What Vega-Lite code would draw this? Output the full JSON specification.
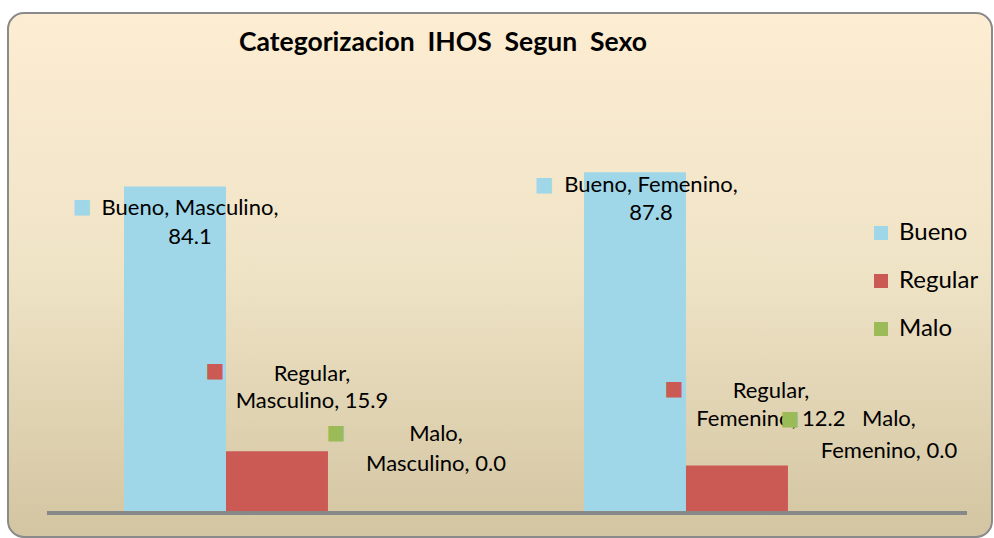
{
  "$schema": "https://vega.github.io/schema/vega-lite/v6.json",
  "autosize": {"type": "none"},
  "padding": {"left": 8, "top": 13, "right": 2, "bottom": 1},
  "width": 984,
  "height": 524,
  "background": "#ffffff",
  "title": {
    "text": "Categorizacion\u00a0\u00a0IHOS\u00a0\u00a0Segun\u00a0\u00a0Sexo",
    "anchor": "start",
    "frame": "group",
    "dx": 231,
    "dy": 64,
    "baseline": "alphabetic",
    "offset": 0,
    "font": "Lato",
    "fontSize": 26.5,
    "fontWeight": "bold",
    "color": "#000000"
  },
  "config": {
    "view": {
      "fill": {"gradient": "linear", "x1": 0, "y1": 0, "x2": 0, "y2": 1,
        "stops": [{"offset": 0, "color": "#FDEDD2"}, {"offset": 0.5, "color": "#EFE3C6"}, {"offset": 1, "color": "#D3C5A1"}]},
      "stroke": "#8a8a8a",
      "strokeWidth": 2,
      "cornerRadius": 16
    },
    "font": "Lato",
    "legend": {
      "orient": "none",
      "padding": 0,
      "symbolType": "square",
      "symbolSize": 196,
      "symbolStrokeWidth": 0,
      "symbolOpacity": 1,
      "labelFont": "Lato",
      "labelFontSize": 24,
      "labelColor": "#000000",
      "labelOffset": 6,
      "rowPadding": 24,
      "title": null
    }
  },
  "data": {
    "values": [
      {"sexo": "Masculino", "serie": "Bueno", "valor": 84.1},
      {"sexo": "Masculino", "serie": "Regular", "valor": 15.9},
      {"sexo": "Masculino", "serie": "Malo", "valor": 0.0},
      {"sexo": "Femenino", "serie": "Bueno", "valor": 87.8},
      {"sexo": "Femenino", "serie": "Regular", "valor": 12.2},
      {"sexo": "Femenino", "serie": "Malo", "valor": 0.0}
    ]
  },
  "transform": [
    {"calculate": "datum.serie == 'Bueno' ? [datum.serie + ', ' + datum.sexo + ',', format(datum.valor, '.1f')] : [datum.serie + ',', datum.sexo + ', ' + format(datum.valor, '.1f')]", "as": "etiqueta"}
  ],
  "encoding": {
    "x": {"field": "sexo", "type": "nominal", "sort": ["Masculino", "Femenino"],
      "scale": {"paddingInner": 0, "paddingOuter": 0.0696, "align": 0.609}, "axis": null},
    "xOffset": {"field": "serie", "type": "nominal", "sort": ["Bueno", "Regular", "Malo"],
      "scale": {"paddingInner": 0, "paddingOuter": 0.755}},
    "y": {"field": "valor", "type": "quantitative", "scale": {"domain": [-6.2, 128.84], "nice": false, "zero": false}, "axis": null},
    "color": {"field": "serie", "type": "nominal", "sort": ["Bueno", "Regular", "Malo"],
      "scale": {"domain": ["Bueno", "Regular", "Malo"], "range": ["#9FD7E8", "#CB5A55", "#9BBB59"]},
      "legend": {"orient": "none", "legendX": 861, "legendY": 208, "title": null}}
  },
  "layer": [
    {
      "mark": {"type": "bar"},
      "encoding": {
        "y2": {"datum": 0}
      }
    },
    {
      "mark": {"type": "rule", "color": "#888888", "strokeWidth": 3},
      "encoding": {
        "x": {"datum": "Masculino", "bandPosition": 0},
        "x2": {"datum": "Femenino", "bandPosition": 1},
        "xOffset": null,
        "color": null,
        "y": {"datum": 0}
      }
    },
    {
      "transform": [{"filter": "datum.serie == 'Bueno' && datum.sexo == 'Masculino'"}],
      "layer": [
        {"mark": {"type": "text", "fontSize": 22, "lineHeight": 29, "baseline": "middle", "align": "center", "dx": 15, "dy": 21, "fill": "#000000"},
         "encoding": {"text": {"field": "etiqueta"}, "color": null}},
        {"mark": {"type": "text", "text": "■", "font": "DejaVu Sans", "fontSize": 20, "baseline": "middle", "align": "center", "dx": -93, "dy": 20}}
      ]
    },
    {
      "transform": [{"filter": "datum.serie == 'Bueno' && datum.sexo == 'Femenino'"}],
      "layer": [
        {"mark": {"type": "text", "fontSize": 22, "lineHeight": 28, "baseline": "middle", "align": "center", "dx": 16, "dy": 13, "fill": "#000000"},
         "encoding": {"text": {"field": "etiqueta"}, "color": null}},
        {"mark": {"type": "text", "text": "■", "font": "DejaVu Sans", "fontSize": 20, "baseline": "middle", "align": "center", "dx": -91, "dy": 13}}
      ]
    },
    {
      "transform": [{"filter": "datum.serie == 'Regular' && datum.sexo == 'Masculino'"}],
      "layer": [
        {"mark": {"type": "text", "fontSize": 22, "lineHeight": 27, "baseline": "middle", "align": "center", "dx": 35, "dy": -77, "fill": "#000000"},
         "encoding": {"text": {"field": "etiqueta"}, "color": null}},
        {"mark": {"type": "text", "text": "■", "font": "DejaVu Sans", "fontSize": 20, "baseline": "middle", "align": "center", "dx": -62, "dy": -80}}
      ]
    },
    {
      "transform": [{"filter": "datum.serie == 'Regular' && datum.sexo == 'Femenino'"}],
      "layer": [
        {"mark": {"type": "text", "fontSize": 22, "lineHeight": 28, "baseline": "middle", "align": "center", "dx": 34, "dy": -75, "fill": "#000000"},
         "encoding": {"text": {"field": "etiqueta"}, "color": null}},
        {"mark": {"type": "text", "text": "■", "font": "DejaVu Sans", "fontSize": 20, "baseline": "middle", "align": "center", "dx": -63, "dy": -77}}
      ]
    },
    {
      "transform": [{"filter": "datum.serie == 'Malo' && datum.sexo == 'Masculino'"}],
      "layer": [
        {"mark": {"type": "text", "fontSize": 22, "lineHeight": 30, "baseline": "middle", "align": "center", "dx": 57, "dy": -79, "fill": "#000000"},
         "encoding": {"text": {"field": "etiqueta"}, "color": null}},
        {"mark": {"type": "text", "text": "■", "font": "DejaVu Sans", "fontSize": 20, "baseline": "middle", "align": "center", "dx": -43, "dy": -80}}
      ]
    },
    {
      "transform": [{"filter": "datum.serie == 'Malo' && datum.sexo == 'Femenino'"}],
      "layer": [
        {"mark": {"type": "text", "fontSize": 22, "lineHeight": 32, "baseline": "middle", "align": "center", "dx": 50, "dy": -94, "fill": "#000000"},
         "encoding": {"text": {"field": "etiqueta"}, "color": null}},
        {"mark": {"type": "text", "text": "■", "font": "DejaVu Sans", "fontSize": 20, "baseline": "middle", "align": "center", "dx": -49, "dy": -94}}
      ]
    }
  ]
}
